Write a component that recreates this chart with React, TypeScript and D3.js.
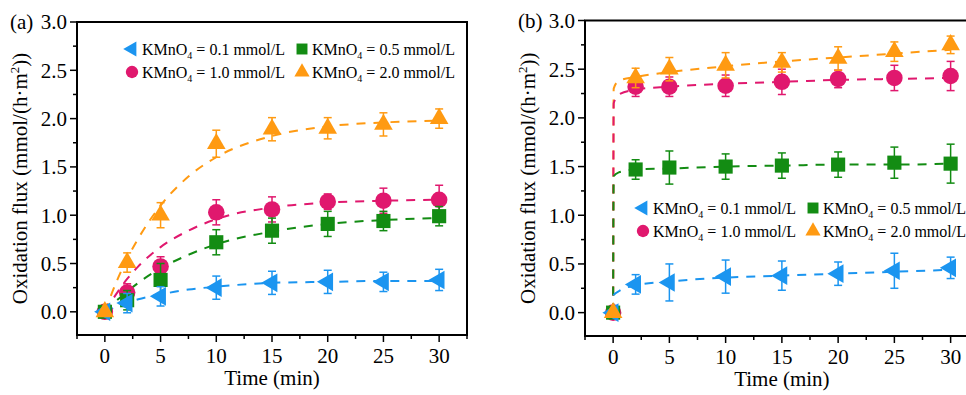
import { scaleLinear, line, curveMonotoneX, symbol, symbolTriangle, symbolCircle, symbolSquare } from "d3";

const width = 966;
const height = 395;

const times = [0, 2, 5, 10, 15, 20, 25, 30];
const concLabels = ["0.1", "0.5", "1.0", "2.0"];
const xTicks = [0, 5, 10, 15, 20, 25, 30];
const yTicks = [0, 0.5, 1.0, 1.5, 2.0, 2.5, 3.0];

// panel (a) measured points
const aBlue = [0, 0.09, 0.16, 0.25, 0.3, 0.31, 0.31, 0.33];
const aBlueErr = [0.03, 0.1, 0.1, 0.12, 0.12, 0.12, 0.1, 0.11];
const aGreen = [0, 0.12, 0.33, 0.72, 0.84, 0.91, 0.94, 0.99];
const aGreenErr = [0.03, 0.1, 0.17, 0.13, 0.13, 0.13, 0.1, 0.1];
const aPink = [0, 0.2, 0.47, 1.03, 1.06, 1.14, 1.15, 1.16];
const aPinkErr = [0.03, 0.09, 0.1, 0.13, 0.13, 0.08, 0.13, 0.15];
const aOrange = [0, 0.51, 1.0, 1.74, 1.89, 1.9, 1.94, 2.0];
const aOrangeErr = [0.03, 0.1, 0.13, 0.14, 0.12, 0.11, 0.12, 0.1];

// panel (a) fitted curves
const aFitT = [0, 1, 2, 3, 5, 7.5, 10, 15, 20, 25, 30];
const aBlueFit = [0, 0.05, 0.09, 0.13, 0.18, 0.23, 0.26, 0.3, 0.31, 0.32, 0.32];
const aGreenFit = [0, 0.11, 0.21, 0.3, 0.45, 0.59, 0.7, 0.83, 0.91, 0.95, 0.97];
const aPinkFit = [0, 0.18, 0.34, 0.47, 0.67, 0.84, 0.96, 1.08, 1.13, 1.15, 1.16];
const aOrangeFit = [0, 0.3, 0.55, 0.76, 1.1, 1.4, 1.6, 1.82, 1.92, 1.96, 1.98];

// panel (b) measured points
const bBlue = [0, 0.29, 0.31, 0.37, 0.38, 0.4, 0.43, 0.46];
const bBlueErr = [0.03, 0.1, 0.19, 0.17, 0.15, 0.12, 0.18, 0.11];
const bGreen = [0, 1.47, 1.49, 1.5, 1.51, 1.52, 1.54, 1.53];
const bGreenErr = [0.03, 0.1, 0.17, 0.13, 0.13, 0.13, 0.16, 0.2];
const bPink = [0, 2.32, 2.32, 2.33, 2.37, 2.4, 2.41, 2.43];
const bPinkErr = [0.03, 0.1, 0.1, 0.11, 0.13, 0.09, 0.13, 0.15];
const bOrange = [0, 2.41, 2.5, 2.54, 2.57, 2.61, 2.68, 2.75];
const bOrangeErr = [0.03, 0.1, 0.12, 0.13, 0.1, 0.12, 0.1, 0.09];

// panel (b) fitted curves
const bFitT = [0, 0.05, 0.5, 2, 5, 10, 15, 20, 25, 30];
const bBlueFit = [0, 0.18, 0.22, 0.28, 0.32, 0.36, 0.38, 0.4, 0.42, 0.44];
const bGreenFit = [0, 1.4, 1.44, 1.47, 1.48, 1.5, 1.51, 1.52, 1.52, 1.53];
const bPinkFit = [0, 2.15, 2.24, 2.29, 2.32, 2.35, 2.37, 2.39, 2.4, 2.41];
const bOrangeFit = [0, 2.3, 2.38, 2.42, 2.47, 2.53, 2.58, 2.62, 2.66, 2.7];

const colors = ["#1b95f0", "#138c13", "#e0186e", "#ff9a12"];
const shapes = ["left", "square", "circle", "up"];
const font = "Liberation Serif, Times New Roman, Times, serif";

function markerPath(shape, big) {
  if (shape === "circle") return symbol().type(symbolCircle).size(big ? 215 : 120)();
  if (shape === "square") return symbol().type(symbolSquare).size(big ? 200 : 120)();
  return symbol().type(symbolTriangle).size(big ? 150 : 100)();
}

function Marker({ shape, color, x, y, big = true }) {
  const rot = shape === "left" ? -90 : 0;
  return (
    <path
      d={markerPath(shape, big)}
      fill={color}
      transform={`translate(${x},${y}) rotate(${rot})`}
    />
  );
}

function KLabel({ x, y, conc }) {
  return (
    <text x={x} y={y} fontSize={16} dy="0.35em">
      KMnO<tspan fontSize={10} dy={4}>4</tspan>
      <tspan dy={-4}> = {conc} mmol/L</tspan>
    </text>
  );
}

function Panel({ tag, left, right, top, bottom, series, errs, fitT, fits, legend }) {
  const x = scaleLinear().domain([-2.5, 32.5]).range([left, right]);
  const y = scaleLinear().domain([-0.24, 3.0]).range([bottom, top]);
  const fitLine = line()
    .x((d) => x(d[0]))
    .y((d) => y(d[1]))
    .curve(curveMonotoneX);

  const yMinor = yTicks.slice(0, -1).map((v, i) => (v + yTicks[i + 1]) / 2);
  const xMinor = [-2.5, ...xTicks.map((v) => v + 2.5)];
  const order = [2, 1, 0, 3];

  return (
    <g>
      {/* fitted curves */}
      {[3, 2, 1, 0].map((s) => (
        <path
          key={"f" + s}
          d={fitLine(fitT.map((t, i) => [t, fits[s][i]]))}
          fill="none"
          stroke={colors[s]}
          strokeWidth={2}
          strokeDasharray="9,8"
        />
      ))}
      {/* points with error bars */}
      {order.map((s) => (
        <g key={"s" + s}>
          {times.map((t, i) => {
            const v = series[s][i];
            const e = errs[s][i];
            const cx = x(t);
            return (
              <g key={i} stroke={colors[s]} strokeWidth={1.5}>
                <line x1={cx} x2={cx} y1={y(v + e)} y2={y(v - e)} />
                <line x1={cx - 4} x2={cx + 4} y1={y(v + e)} y2={y(v + e)} />
                <line x1={cx - 4} x2={cx + 4} y1={y(v - e)} y2={y(v - e)} />
              </g>
            );
          })}
          {times.map((t, i) => (
            <Marker key={"m" + i} shape={shapes[s]} color={colors[s]} x={x(t)} y={y(series[s][i])} />
          ))}
        </g>
      ))}
      {/* frame */}
      <rect x={left} y={top} width={right - left} height={bottom - top} fill="none" stroke="#000" strokeWidth={2} />
      {/* y ticks */}
      {yTicks.map((v) => (
        <g key={"y" + v}>
          <line x1={left - 7} x2={left} y1={y(v)} y2={y(v)} stroke="#000" strokeWidth={1.5} />
          <text x={left - 10} y={y(v)} dy="0.35em" textAnchor="end" fontSize={21}>
            {v.toFixed(1)}
          </text>
        </g>
      ))}
      {yMinor.map((v) => (
        <line key={"ym" + v} x1={left - 4} x2={left} y1={y(v)} y2={y(v)} stroke="#000" strokeWidth={1.5} />
      ))}
      {/* x ticks */}
      {xTicks.map((v) => (
        <g key={"x" + v}>
          <line x1={x(v)} x2={x(v)} y1={bottom} y2={bottom + 7} stroke="#000" strokeWidth={1.5} />
          <text x={x(v)} y={bottom + 28} textAnchor="middle" fontSize={21}>
            {v}
          </text>
        </g>
      ))}
      {xMinor.map((v) => (
        <line key={"xm" + v} x1={x(v)} x2={x(v)} y1={bottom} y2={bottom + 4} stroke="#000" strokeWidth={1.5} />
      ))}
      <text x={left - 67} y={y(3.0)} dy="0.35em" fontSize={21}>
        {tag}
      </text>
      <text x={(left + right) / 2} y={bottom + 50} textAnchor="middle" fontSize={21}>
        Time (min)
      </text>
      <text
        transform={`translate(${left - 57},${(top + bottom) / 2}) rotate(-90)`}
        textAnchor="middle"
        fontSize={21}
        dy="0.35em"
      >
        Oxidation flux (mmol/(h·m<tspan fontSize={13} dy={-8}>2</tspan>
        <tspan dy={8}>))</tspan>
      </text>
      {/* legend */}
      {[0, 1, 2, 3].map((s) => {
        const col = s % 2;
        const row = Math.floor(s / 2);
        const lx = legend.x + col * 170;
        const ly = legend.y + row * 23;
        return (
          <g key={"l" + s}>
            <Marker shape={shapes[s]} color={colors[s]} x={lx - 10} y={ly} big={false} />
            <KLabel x={lx} y={ly} conc={concLabels[s]} />
          </g>
        );
      })}
    </g>
  );
}

export default function App() {
  return (
    <svg
      width={width}
      height={height}
      style={{ position: "absolute", left: 0, top: 0, background: "#fff", fontFamily: font }}
    >
      <Panel
        tag="(a)"
        left={77}
        right={467}
        top={22}
        bottom={335}
        series={[aBlue, aGreen, aPink, aOrange]}
        errs={[aBlueErr, aGreenErr, aPinkErr, aOrangeErr]}
        fitT={aFitT}
        fits={[aBlueFit, aGreenFit, aPinkFit, aOrangeFit]}
        legend={{ x: 142, y: 49 }}
      />
      <Panel
        tag="(b)"
        left={585}
        right={978.75}
        top={20.5}
        bottom={336}
        series={[bBlue, bGreen, bPink, bOrange]}
        errs={[bBlueErr, bGreenErr, bPinkErr, bOrangeErr]}
        fitT={bFitT}
        fits={[bBlueFit, bGreenFit, bPinkFit, bOrangeFit]}
        legend={{ x: 653, y: 208 }}
      />
    </svg>
  );
}
